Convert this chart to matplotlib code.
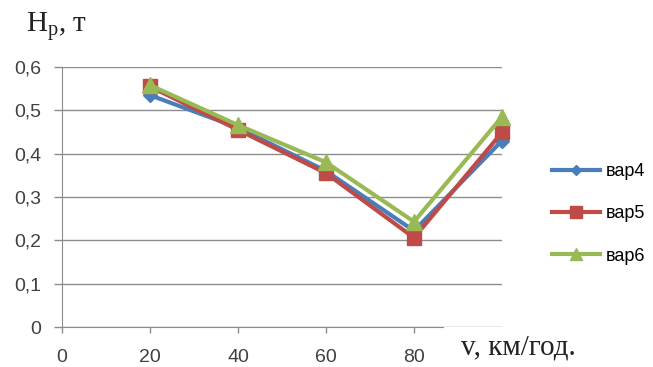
import matplotlib.pyplot as plt
from matplotlib.ticker import FuncFormatter

plt.rcParams['font.family'] = ['Liberation Sans', 'DejaVu Sans']
plt.rcParams['font.size'] = 13

speed = [20, 40, 60, 80, 100]
var4 = [0.535, 0.46, 0.36, 0.222, 0.43]
var5 = [0.555, 0.455, 0.355, 0.206, 0.449]
var6 = [0.558, 0.466, 0.38, 0.243, 0.485]
x_ticks = [0, 20, 40, 60, 80]
y_ticks = [0, 0.1, 0.2, 0.3, 0.4, 0.5, 0.6]


def comma_fmt(v, pos):
    if v == 0:
        return '0'
    return f'{v:.1f}'.replace('.', ',')


fig = plt.figure(figsize=(6.53, 3.67), dpi=100)
ax = fig.add_axes([62 / 653, 40 / 367, 440 / 653, 260 / 367])

ax.plot(speed, var4, color='#4a7ebb', lw=3, marker='D', ms=7, label='вар4', clip_on=False, zorder=3)
ax.plot(speed, var5, color='#be4b48', lw=3, marker='s', ms=10, label='вар5', clip_on=False, zorder=4)
ax.plot(speed, var6, color='#98b954', lw=3, marker='^', ms=11, label='вар6', clip_on=False, zorder=5)

ax.set_xlim(0, 100)
ax.set_ylim(0, 0.6)
ax.set_xticks(x_ticks)
ax.set_yticks(y_ticks)
ax.yaxis.set_major_formatter(FuncFormatter(comma_fmt))
ax.grid(axis='y', color='#8c8c8c', lw=1)
ax.set_axisbelow(True)
for s in ['top', 'right']:
    ax.spines[s].set_visible(False)
for s in ['left', 'bottom']:
    ax.spines[s].set_color('#8c8c8c')
# x axis line stops short of the axis title
ax.spines['bottom'].set_bounds(0, 86.6)
ax.tick_params(axis='both', colors='#8c8c8c', width=1, labelcolor='#404040', labelsize=14)
ax.tick_params(axis='y', length=6, pad=9)
ax.tick_params(axis='x', length=4, pad=12)

fig.text(26 / 653, 1 - 32 / 367, r'H$_{\mathregular{p}}$, т', family='Liberation Serif',
         fontsize=21, va='baseline', ha='left', color='#222222')
fig.text(461 / 653, 1 - 355 / 367, 'v, км/год.', family='Liberation Serif', fontsize=21,
         va='baseline', ha='left', color='#222222')

leg = fig.legend(loc='center left', bbox_to_anchor=(552 / 653, 1 - 214 / 367), frameon=False,
                 borderaxespad=0, borderpad=0, handlelength=2.65, handletextpad=0.3,
                 labelspacing=1.4, fontsize=13, markerscale=0.8)

fig.savefig('out.png', dpi=100)
